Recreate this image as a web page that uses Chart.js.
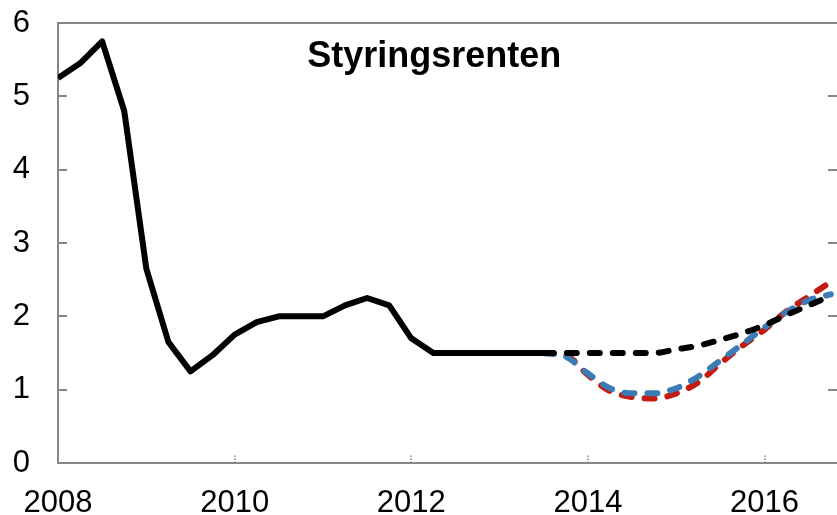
<!DOCTYPE html>
<html>
<head>
<meta charset="utf-8">
<script src="https://cdn.jsdelivr.net/npm/chart.js@4.4.1/dist/chart.umd.min.js"></script>
<style>
  html, body { margin: 0; padding: 0; background: #fff; }
  #wrap { width: 837px; height: 515px; position: relative; }
</style>
</head>
<body>
<div id="wrap"><canvas id="c"></canvas></div>
<script>
// Quarters, 2008K1 - 2016K4
var quarters = [
  '2008K1','2008K2','2008K3','2008K4','2009K1','2009K2','2009K3','2009K4',
  '2010K1','2010K2','2010K3','2010K4','2011K1','2011K2','2011K3','2011K4',
  '2012K1','2012K2','2012K3','2012K4','2013K1','2013K2','2013K3','2013K4',
  '2014K1','2014K2','2014K3','2014K4','2015K1','2015K2','2015K3','2015K4',
  '2016K1','2016K2','2016K3','2016K4'
];

// historical key policy rate, 2008K1 - 2013K3
var policyRate = [5.25, 5.45, 5.75, 4.8, 2.65, 1.65, 1.25, 1.47,
                  1.75, 1.92, 2.0, 2.0, 2.0, 2.15, 2.25, 2.15,
                  1.7, 1.5, 1.5, 1.5, 1.5, 1.5, 1.5];

// projections, 2013K3 - 2016K4
var projBlack = [1.5, 1.5, 1.5, 1.5, 1.5, 1.5, 1.55, 1.6, 1.68, 1.77, 1.88, 2.02, 2.15, 2.28];
var projBlue  = [1.5, 1.45, 1.22, 1.02, 0.95, 0.95, 1.02, 1.18, 1.4, 1.62, 1.85, 2.06, 2.22, 2.3];
var projRed   = [1.5, 1.47, 1.2, 0.98, 0.9, 0.88, 0.95, 1.1, 1.36, 1.6, 1.82, 2.07, 2.27, 2.47];

var yearTicks = [2008, 2010, 2012, 2014, 2016];
var yTicks = [0, 1, 2, 3, 4, 5, 6];
var title = 'Styringsrenten';

var AXIS = '#868686';
var FONT = "'Liberation Sans', Arial, sans-serif";

function qx(q) {
  return parseInt(q.slice(0, 4), 10) + (parseInt(q.slice(5), 10) - 1) / 4;
}
function pts(vals, start) {
  return vals.map(function (v, i) { return { x: qx(quarters[start + i]), y: v }; });
}
var projStart = policyRate.length - 1;

var decor = {
  id: 'decor',
  beforeDatasetsDraw: function (chart) {
    var ctx = chart.ctx, a = chart.chartArea;
    var xs = chart.scales.x, ys = chart.scales.y;
    ctx.save();
    ctx.strokeStyle = AXIS;
    ctx.lineWidth = 2;
    // top border
    ctx.beginPath();
    ctx.moveTo(a.left, a.top);
    ctx.lineTo(a.right, a.top);
    ctx.stroke();
    // inward ticks left and right
    yTicks.forEach(function (v) {
      if (v === 0 || v === 6) return;
      var y = Math.round(ys.getPixelForValue(v));
      ctx.beginPath();
      ctx.moveTo(a.left, y); ctx.lineTo(a.left + 9, y);
      ctx.moveTo(a.right - 9, y); ctx.lineTo(a.right, y);
      ctx.stroke();
    });
    // dotted year ticks
    ctx.lineWidth = 1.5;
    ctx.setLineDash([1.5, 1.5]);
    yearTicks.forEach(function (v) {
      if (v === 2008) return;
      var x = Math.round(xs.getPixelForValue(v));
      ctx.beginPath();
      ctx.moveTo(x, a.bottom);
      ctx.lineTo(x, a.bottom - 9);
      ctx.stroke();
    });
    ctx.restore();
  },
  afterDraw: function (chart) {
    var ctx = chart.ctx, a = chart.chartArea;
    ctx.save();
    ctx.fillStyle = '#000';
    ctx.font = 'bold 36px ' + FONT;
    ctx.textAlign = 'center';
    ctx.textBaseline = 'alphabetic';
    ctx.fillText(title, a.left + (a.right - a.left) * 0.483, a.top + 44);
    ctx.restore();
  }
};

var dash = { borderDash: [10, 13], borderCapStyle: 'round', borderWidth: 6,
             pointRadius: 0, fill: false, cubicInterpolationMode: 'monotone' };

new Chart(document.getElementById('c'), {
  type: 'line',
  data: {
    datasets: [
      { label: 'Styringsrente', data: pts(policyRate, 0), borderColor: '#000',
        borderWidth: 6, pointRadius: 0, borderJoinStyle: 'round', tension: 0, fill: false },
      Object.assign({ label: 'Bane 1', data: pts(projBlack, projStart), borderColor: '#000' }, dash),
      Object.assign({ label: 'Bane 2', data: pts(projBlue, projStart), borderColor: '#3b7cb5' }, dash),
      Object.assign({ label: 'Bane 3', data: pts(projRed, projStart), borderColor: '#c41a10' }, dash)
    ]
  },
  options: {
    responsive: true,
    maintainAspectRatio: false,
    animation: false,
    layout: { padding: { top: 0, right: 0, left: 0, bottom: 0 } },
    plugins: { legend: { display: false }, tooltip: { enabled: false } },
    scales: {
      x: {
        type: 'linear', min: 2008, max: 2016.82,
        afterBuildTicks: function (s) { s.ticks = yearTicks.map(function (v) { return { value: v }; }); },
        afterFit: function (s) { s.height = 52; s.paddingLeft = 0; s.paddingRight = 0; },
        grid: { display: false, drawTicks: false },
        border: { display: true, color: AXIS, width: 2 },
        ticks: { color: '#000', font: { family: FONT, size: 31 }, padding: 22, maxRotation: 0,
                 callback: function (v) { return String(v); } }
      },
      y: {
        min: 0, max: 6,
        afterBuildTicks: function (s) { s.ticks = yTicks.map(function (v) { return { value: v }; }); },
        afterFit: function (s) { s.width = 58; s.paddingTop = 23; s.paddingBottom = 0; },
        grid: { display: false, drawTicks: false },
        border: { display: true, color: AXIS, width: 2 },
        ticks: { color: '#000', font: { family: FONT, size: 31 }, padding: 28 }
      }
    }
  },
  plugins: [decor]
});
</script>
</body>
</html>
